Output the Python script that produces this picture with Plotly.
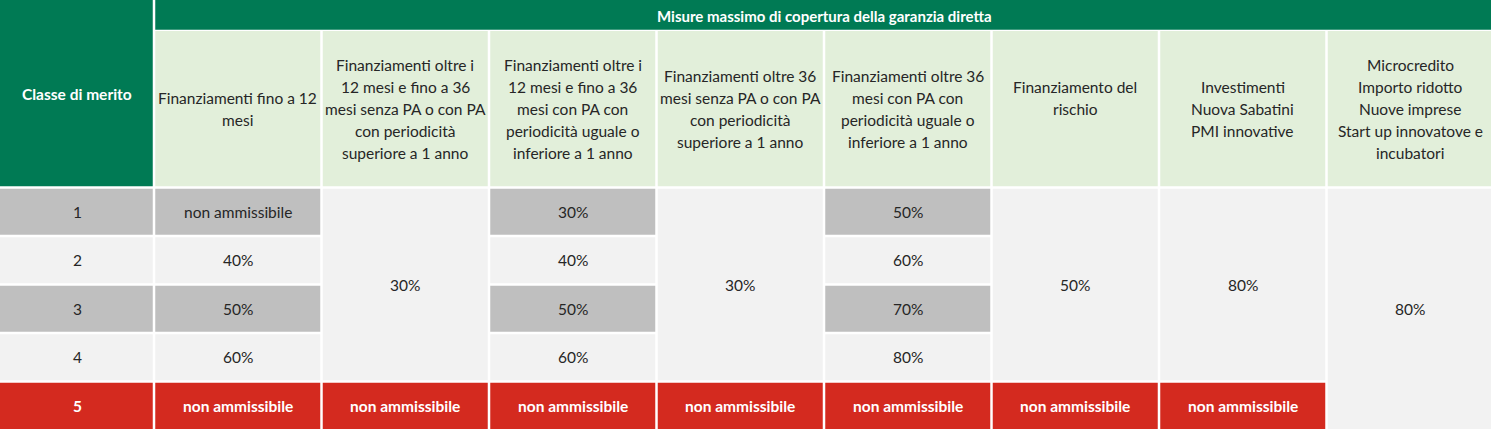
import plotly.graph_objects as go

# ---- data -------------------------------------------------------------
merit_classes = ["1", "2", "3", "4", "5"]
group_title = "Misure massimo di copertura della garanzia diretta"
first_header = "Classe di merito"
measure_headers = [
    "Finanziamenti fino a 12\nmesi",
    "Finanziamenti oltre i\n12 mesi e fino a 36\nmesi senza PA o con PA\ncon periodicità\nsuperiore a 1 anno",
    "Finanziamenti oltre i\n12 mesi e fino a 36\nmesi con PA con\nperiodicità uguale o\ninferiore a 1 anno",
    "Finanziamenti oltre 36\nmesi senza PA o con PA\ncon periodicità\nsuperiore a 1 anno",
    "Finanziamenti oltre 36\nmesi con PA con\nperiodicità uguale o\ninferiore a 1 anno",
    "Finanziamento del\nrischio\n ",
    "Investimenti\nNuova Sabatini\nPMI innovative",
    "Microcredito\nImporto ridotto\nNuove imprese\nStart up innovatove e\nincubatori",
]
# one list per measure column, one entry per merit class
coverage = [
    ["non ammissibile", "40%", "50%", "60%", "non ammissibile"],
    ["30%", "30%", "30%", "30%", "non ammissibile"],
    ["30%", "40%", "50%", "60%", "non ammissibile"],
    ["30%", "30%", "30%", "30%", "non ammissibile"],
    ["50%", "60%", "70%", "80%", "non ammissibile"],
    ["50%", "50%", "50%", "50%", "non ammissibile"],
    ["80%", "80%", "80%", "80%", "non ammissibile"],
    ["80%", "80%", "80%", "80%", "80%"],
]

# ---- layout / style ----------------------------------------------------
W, H = 1491, 429
FIRST_W = 154
COL_W = 167.5
BAND_H = 31
HEAD_H = 156.5
ROW_H = 48.5
GAP = 2.5
LINE = 22

GREEN = "#007a54"
LIGHT_GREEN = "#e2efda"
DARK_GREY = "#bfbfbf"
LIGHT_GREY = "#f2f2f2"
RED = "#d42a1f"
TEXT = "#262626"
FONT = "Lato"
SIZE = 15.5

x_edges = [0, FIRST_W] + [FIRST_W + COL_W * (i + 1) for i in range(len(measure_headers))]
body_top = BAND_H + HEAD_H
y_edges = [body_top + ROW_H * r for r in range(len(merit_classes) + 1)]

shapes = []
annotations = []


def add_cell(x0, x1, y0, y1, color, gap_top=True):
    h = GAP / 2
    shapes.append(dict(
        type="rect", xref="x", yref="y", layer="below", line=dict(width=0),
        fillcolor=color,
        x0=x0 + (h if x0 > 0 else 0),
        x1=x1 - (h if x1 < W else 0),
        y0=y0 + (h if (y0 > 0 and gap_top) else 0),
        y1=y1 - (h if y1 < H else 0),
    ))


def add_text(x, y, text, color=TEXT, bold=False, size=SIZE):
    lines = text.split("\n")
    n = len(lines)
    for i, line in enumerate(lines):
        t = "<b>%s</b>" % line if bold else line
        annotations.append(dict(
            x=x, y=y, xref="x", yref="y", text=t, showarrow=False,
            xanchor="center", yanchor="middle",
            yshift=-(i - (n - 1) / 2) * LINE,
            font=dict(family=FONT, size=size, color=color),
        ))


# first column header
add_cell(x_edges[0], x_edges[1], 0, body_top, GREEN)
add_text((x_edges[0] + x_edges[1]) / 2, body_top / 2, first_header, "white", True)

# group band
add_cell(x_edges[1], x_edges[-1], 0, BAND_H, GREEN)
add_text((x_edges[1] + x_edges[-1]) / 2, BAND_H / 2, group_title, "white", True, 15)

# measure headers
for c, head in enumerate(measure_headers):
    x0, x1 = x_edges[c + 1], x_edges[c + 2]
    add_cell(x0, x1, BAND_H, body_top, LIGHT_GREEN, gap_top=False)
    add_text((x0 + x1) / 2, BAND_H + HEAD_H / 2, head)

last = len(merit_classes) - 1


def row_fill(r):
    if r == last:
        return RED
    return DARK_GREY if r % 2 == 0 else LIGHT_GREY


# merit class column
for r, cls in enumerate(merit_classes):
    y0, y1 = y_edges[r], y_edges[r + 1]
    add_cell(x_edges[0], x_edges[1], y0, y1, row_fill(r))
    add_text((x_edges[0] + x_edges[1]) / 2, (y0 + y1) / 2, cls,
             "white" if r == last else TEXT, r == last)

# coverage values, vertically merging equal neighbours
for c, col in enumerate(coverage):
    x0, x1 = x_edges[c + 1], x_edges[c + 2]
    r = 0
    while r < len(col):
        end = r
        while end + 1 < len(col) and col[end + 1] == col[r]:
            end += 1
        y0, y1 = y_edges[r], y_edges[end + 1]
        red = col[r] == "non ammissibile" and r == last
        if red:
            fill = RED
        elif end > r:
            fill = LIGHT_GREY
        else:
            fill = row_fill(r)
        add_cell(x0, x1, y0, min(y1, H), fill)
        add_text((x0 + x1) / 2, (y0 + y1) / 2, col[r],
                 "white" if red else TEXT, red)
        r = end + 1

fig = go.Figure()
fig.update_layout(
    width=W, height=H,
    margin=dict(l=0, r=0, t=0, b=0),
    paper_bgcolor="white", plot_bgcolor="white",
    xaxis=dict(range=[0, W], visible=False, fixedrange=True),
    yaxis=dict(range=[H, 0], visible=False, fixedrange=True),
    shapes=shapes, annotations=annotations,
    showlegend=False,
)
fig.write_html("out.html", config=dict(displayModeBar=False),
               post_script="document.body.style.margin='0';")
